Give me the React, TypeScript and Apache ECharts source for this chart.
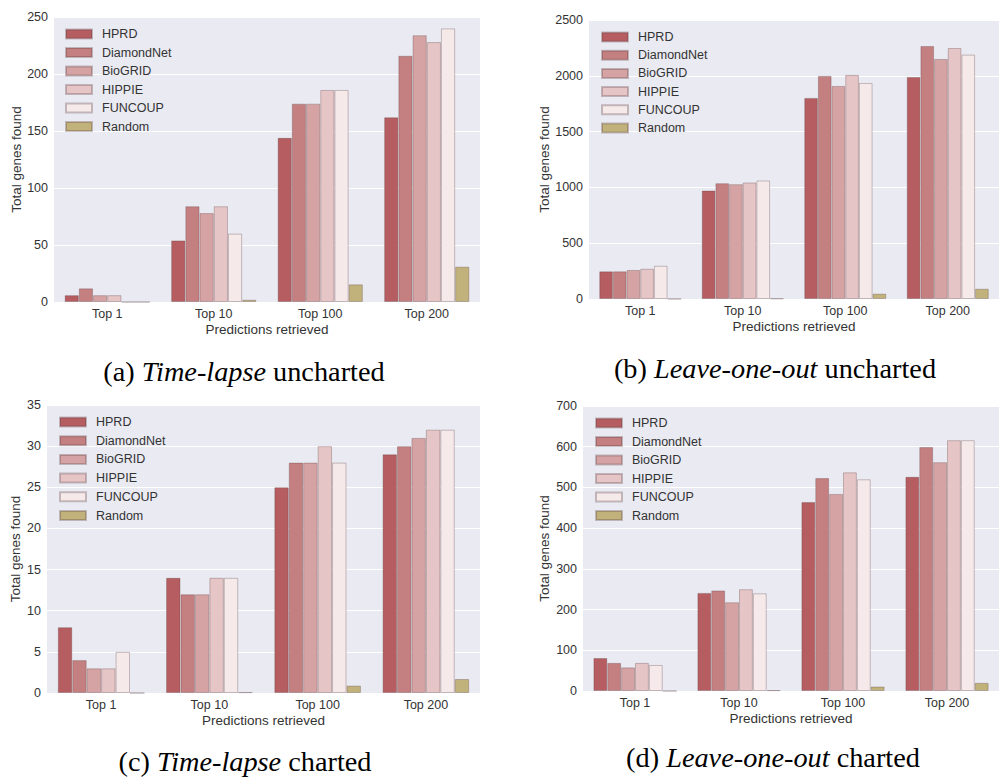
import React, { useEffect, useRef } from "react";
import * as echarts from "echarts";

const categories = ["Top 1", "Top 10", "Top 100", "Top 200"];
const methods = ["HPRD", "DiamondNet", "BioGRID", "HIPPIE", "FUNCOUP", "Random"];
const colors = ["#b55d60", "#c47f80", "#d5a3a4", "#e6c5c7", "#f5e9ea", "#c1b27c"];

// (a) Time-lapse uncharted — one row per method, values per category
const timeLapseUncharted = [
  [6, 54, 144, 162],
  [12, 84, 174, 216],
  [6, 78, 174, 234],
  [6, 84, 186, 228],
  [0, 60, 186, 240],
  [0, 2, 15.5, 31],
];
// (b) Leave-one-out uncharted
const leaveOneOutUncharted = [
  [248, 972, 1802, 1990],
  [248, 1038, 1999, 2267],
  [260, 1029, 1909, 2151],
  [271, 1044, 2008, 2249],
  [298, 1062, 1936, 2190],
  [1, 5, 48, 92],
];
// (c) Time-lapse charted
const timeLapseCharted = [
  [8, 14, 25, 29],
  [4, 12, 28, 30],
  [3, 12, 28, 31],
  [3, 14, 30, 32],
  [5, 14, 28, 32],
  [0, 0.1, 0.9, 1.7],
];
// (d) Leave-one-out charted
const leaveOneOutCharted = [
  [81, 241, 464, 526],
  [69, 247, 523, 599],
  [58, 218, 484, 562],
  [69, 250, 537, 616],
  [64, 240, 520, 616],
  [0, 2, 11, 20],
];

const yMax = [250, 2500, 35, 700];
const yInterval = [50, 500, 5, 100];

const captions = [
  { label: "(a) ", em: "Time-lapse", rest: " uncharted" },
  { label: "(b) ", em: "Leave-one-out", rest: " uncharted" },
  { label: "(c) ", em: "Time-lapse", rest: " charted" },
  { label: "(d) ", em: "Leave-one-out", rest: " charted" },
];

const panelData = [timeLapseUncharted, leaveOneOutUncharted, timeLapseCharted, leaveOneOutCharted];

// layout (pixels)
const grids = [
  { left: 54, top: 17, width: 426, height: 285 },
  { left: 589, top: 20, width: 410, height: 279 },
  { left: 47, top: 405, width: 433, height: 288 },
  { left: 583, top: 406, width: 416, height: 285 },
];
const yNameGaps = [31, 37, 24.5, 31.5];
const legendPos = [
  { left: 65, top: 27, gap: 4.5 },
  { left: 601, top: 30, gap: 4.2 },
  { left: 59, top: 415, gap: 4.7 },
  { left: 595, top: 416, gap: 4.5 },
];
const captionPos = [
  { x: 244, y: 357 },
  { x: 775, y: 354 },
  { x: 245, y: 747 },
  { x: 773, y: 743 },
];

const FONT = "Liberation Sans, Arial, sans-serif";
const SERIF = "Liberation Serif, Times New Roman, serif";

export default function App() {
  const ref = useRef<HTMLDivElement>(null);
  useEffect(() => {
    document.body.style.margin = "0";
    if (!ref.current) return;
    const chart = echarts.init(ref.current, null, { renderer: "svg" });

    const series: any[] = [];
    panelData.forEach((rows, p) => {
      rows.forEach((vals, m) => {
        series.push({
          type: "bar",
          name: methods[m],
          xAxisIndex: p,
          yAxisIndex: p,
          data: vals,
          barGap: "0%",
          barCategoryGap: "20%",
          itemStyle: {
            color: colors[m],
            borderColor: "rgba(90,60,60,0.3)",
            borderWidth: 1,
          },
          emphasis: { disabled: true },
        });
      });
    });

    const option: any = {
      animation: false,
      textStyle: { fontFamily: FONT },
      grid: grids.map((g) => ({
        ...g,
        show: true,
        backgroundColor: "#eaeaf2",
        borderWidth: 0,
        containLabel: false,
      })),
      xAxis: grids.map((_, p) => ({
        type: "category",
        gridIndex: p,
        data: categories,
        name: "Predictions retrieved",
        nameLocation: "middle",
        nameGap: 20,
        nameTextStyle: { fontSize: 13.5, color: "#333", fontFamily: FONT },
        axisLine: { show: false },
        axisTick: { show: false },
        axisLabel: { fontSize: 12.5, color: "#333", margin: 5, fontFamily: FONT },
        splitLine: { show: false },
      })),
      yAxis: grids.map((_, p) => ({
        type: "value",
        gridIndex: p,
        min: 0,
        max: yMax[p],
        interval: yInterval[p],
        name: "Total genes found",
        nameLocation: "middle",
        nameGap: yNameGaps[p],
        nameTextStyle: { fontSize: 13.5, color: "#333", fontFamily: FONT },
        axisLine: { show: false },
        axisTick: { show: false },
        axisLabel: {
          fontSize: 12.5,
          color: "#333",
          margin: 6,
          fontFamily: FONT,
          formatter: (v: number) => String(v),
        },
        splitLine: { show: true, lineStyle: { color: "#ffffff", width: 1 } },
      })),
      legend: legendPos.map((l) => ({
        data: methods,
        orient: "vertical",
        left: l.left,
        top: l.top,
        itemWidth: 26,
        itemHeight: 9,
        itemGap: l.gap,
        icon: "rect",
        selectedMode: false,
        padding: 0,
        textStyle: {
          fontSize: 12.5,
          color: "#333",
          lineHeight: 14,
          fontFamily: FONT,
          padding: [0, 0, 0, 5],
        },
      })),
      title: captions.map((c, i) => ({
        text: `{n|${c.label}}{i|${c.em}}{n|${c.rest}}`,
        left: captionPos[i].x,
        top: captionPos[i].y,
        textAlign: "center",
        padding: 0,
        textStyle: {
          fontWeight: "normal",
          rich: {
            n: { fontFamily: SERIF, fontSize: 28.3, fontWeight: "normal", color: "#000" },
            i: {
              fontFamily: SERIF,
              fontSize: 28.3,
              fontWeight: "normal",
              fontStyle: "italic",
              color: "#000",
            },
          },
        },
      })),
      series,
    };
    chart.setOption(option);
    return () => chart.dispose();
  }, []);
  return <div ref={ref} style={{ width: 999, height: 778 }} />;
}
